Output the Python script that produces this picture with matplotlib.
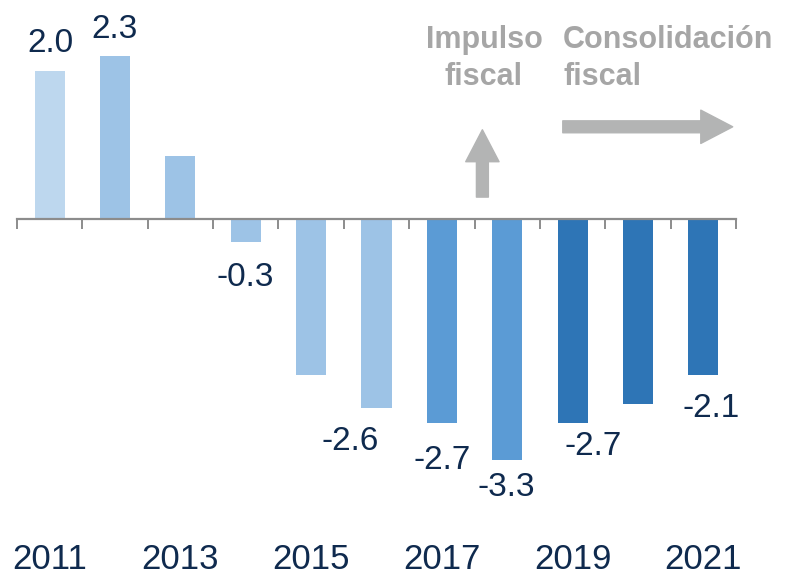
import matplotlib.pyplot as plt
import matplotlib.transforms as mtransforms

plt.rcParams['font.family'] = ['Liberation Sans', 'DejaVu Sans']

# ========== Datos ==========
years = [2011, 2012, 2013, 2014, 2015, 2016, 2017, 2018, 2019, 2020, 2021]
values = [2.0, 2.2, 0.85, -0.3, -2.1, -2.55, -2.75, -3.25, -2.75, -2.5, -2.1]
labels = ["2.0", "2.3", "", "-0.3", "", "-2.6", "-2.7", "-3.3", "-2.7", "", "-2.1"]
year_labels = ["2011", "", "2013", "", "2015", "", "2017", "", "2019", "", "2021"]

colors = ["#BDD7EE", "#9DC3E6", "#9DC3E6", "#9DC3E6", "#9DC3E6", "#9DC3E6",
          "#5B9BD5", "#5B9BD5", "#2E75B6", "#2E75B6", "#2E75B6"]
# desplazamiento de las etiquetas (px): dx, dy
label_offsets = [(1, 19), (-1, 19), (0, 0), (-1, -44), (0, 0), (-26, -42),
                 (0, -46), (-1, -36), (21, -32), (0, 0), (8, -42)]

navy = "#0F2A4E"
gray_txt = "#A6A6A6"
gray_arrow = "#B3B4B4"

fig = plt.figure(figsize=(7.88, 5.78), dpi=100)
ax = fig.add_axes([17 / 788, 58 / 578, 719 / 788, 520 / 578])

x = list(range(len(years)))
ax.bar(x, values, width=0.46, color=colors, zorder=2)

ax.set_xlim(-0.5, len(years) - 0.5)
ax.set_ylim(-(520 - 219.3) / 74, 219.3 / 74)

# Eje en cero
for s in ["top", "right", "left"]:
    ax.spines[s].set_visible(False)
ax.spines["bottom"].set_position(("data", 0))
ax.spines["bottom"].set_color("#8C8C8C")
ax.spines["bottom"].set_linewidth(1.6)
ax.spines["bottom"].set_zorder(3)
ax.set_xticks([i - 0.5 for i in range(len(years) + 1)])
ax.set_xticklabels([])
ax.tick_params(axis="x", direction="out", length=7.5, width=1.4, color="#8C8C8C")
ax.set_yticks([])

# Años abajo
trans = mtransforms.blended_transform_factory(ax.transData, ax.transAxes)
for i, yl in enumerate(year_labels):
    if yl:
        ax.text(i, -0.094, yl, transform=trans, ha="center", va="baseline",
                fontsize=25, color=navy)

# Etiquetas de valores
for i, (v, lab) in enumerate(zip(values, labels)):
    if not lab:
        continue
    dx, dy = label_offsets[i]
    ax.annotate(lab, (i, v), xytext=(dx, dy), textcoords="offset pixels",
                ha="center", va="baseline", fontsize=24, color=navy)

# Flechas y textos
ax.annotate("", xy=(6.62, 1.21), xytext=(6.62, 0.3),
            arrowprops=dict(arrowstyle="simple,head_length=2.3,head_width=2.4,tail_width=0.86",
                            mutation_scale=10, color=gray_arrow, shrinkA=0, shrinkB=0))
ax.annotate("", xy=(10.45, 1.25), xytext=(7.85, 1.25),
            arrowprops=dict(arrowstyle="simple,head_length=2.3,head_width=2.4,tail_width=0.86",
                            mutation_scale=10, color=gray_arrow, shrinkA=0, shrinkB=0))

fig.text(484 / 788, 1 - 48 / 578, "Impulso", ha="center", va="baseline",
         fontsize=22, fontweight="bold", color=gray_txt)
fig.text(484 / 788, 1 - 85 / 578, "fiscal", ha="center", va="baseline",
         fontsize=22, fontweight="bold", color=gray_txt)
fig.text(563 / 788, 1 - 48 / 578, "Consolidación", ha="left", va="baseline",
         fontsize=22, fontweight="bold", color=gray_txt)
fig.text(563 / 788, 1 - 85 / 578, "fiscal", ha="left", va="baseline",
         fontsize=22, fontweight="bold", color=gray_txt)

plt.savefig("out.png", dpi=100)
plt.close()
